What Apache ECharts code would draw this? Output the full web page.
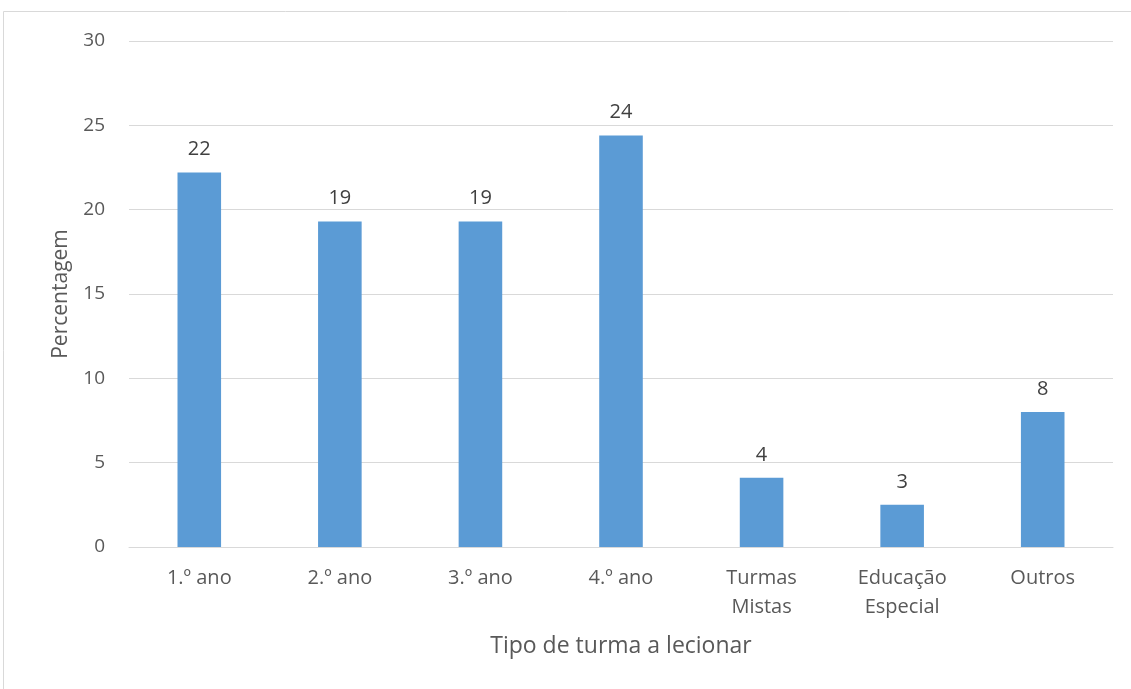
<!DOCTYPE html>
<html>
<head>
<meta charset="utf-8">
<script src="https://cdn.jsdelivr.net/npm/echarts@6/dist/echarts.min.js"></script>
<style>
  html, body { margin: 0; padding: 0; background: #fff; }
  #chart { width: 1131px; height: 689px; }
</style>
</head>
<body>
<div id="chart"></div>
<script>
// Tipo de turma a lecionar (percentagem de respostas)
const categories = ['1.º ano', '2.º ano', '3.º ano', '4.º ano', 'Turmas\nMistas', 'Educação\nEspecial', 'Outros'];
const percentages = [22.2, 19.3, 19.3, 24.4, 4.1, 2.5, 8.0];
const yTicks = { min: 0, max: 30, interval: 5 };

const FONT = '"Open Sans", "Noto Sans", sans-serif';
const chart = echarts.init(document.getElementById('chart'), null, { renderer: 'canvas' });

chart.setOption({
  animation: false,
  backgroundColor: '#ffffff',
  textStyle: { fontFamily: FONT },
  graphic: [{
    type: 'rect',
    shape: { x: 3.5, y: 11.5, width: 1140, height: 700 },
    style: { fill: 'none', stroke: '#d9d9d9', lineWidth: 1 },
    silent: true
  }],
  grid: { left: 129, right: 18, top: 41, bottom: 142, containLabel: false },
  xAxis: {
    type: 'category',
    data: categories,
    name: 'Tipo de turma a lecionar',
    nameLocation: 'middle',
    nameGap: 88,
    nameTextStyle: { fontFamily: FONT, fontSize: 23, color: '#595959' },
    axisLine: { show: true, lineStyle: { color: '#d9d9d9', width: 1 } },
    axisTick: { show: false },
    axisLabel: {
      fontFamily: FONT, fontSize: 20, color: '#595959',
      margin: 17, lineHeight: 29, interval: 0
    }
  },
  yAxis: {
    type: 'value',
    min: yTicks.min, max: yTicks.max, interval: yTicks.interval,
    name: 'Percentagem',
    nameLocation: 'middle',
    nameGap: 57,
    nameTextStyle: { fontFamily: FONT, fontSize: 21, color: '#595959' },
    axisLine: { show: false },
    axisTick: { show: false },
    axisLabel: { fontFamily: FONT, fontSize: 19, color: '#595959', margin: 24 },
    splitLine: { show: true, lineStyle: { color: '#d9d9d9', width: 1 } }
  },
  series: [{
    type: 'bar',
    data: percentages,
    barWidth: '31%',
    itemStyle: { color: '#5b9bd5' },
    label: {
      show: true,
      position: 'top',
      distance: 13,
      fontFamily: FONT, fontSize: 20, color: '#404040',
      formatter: p => String(Math.round(p.value))
    }
  }]
});
</script>
</body>
</html>
